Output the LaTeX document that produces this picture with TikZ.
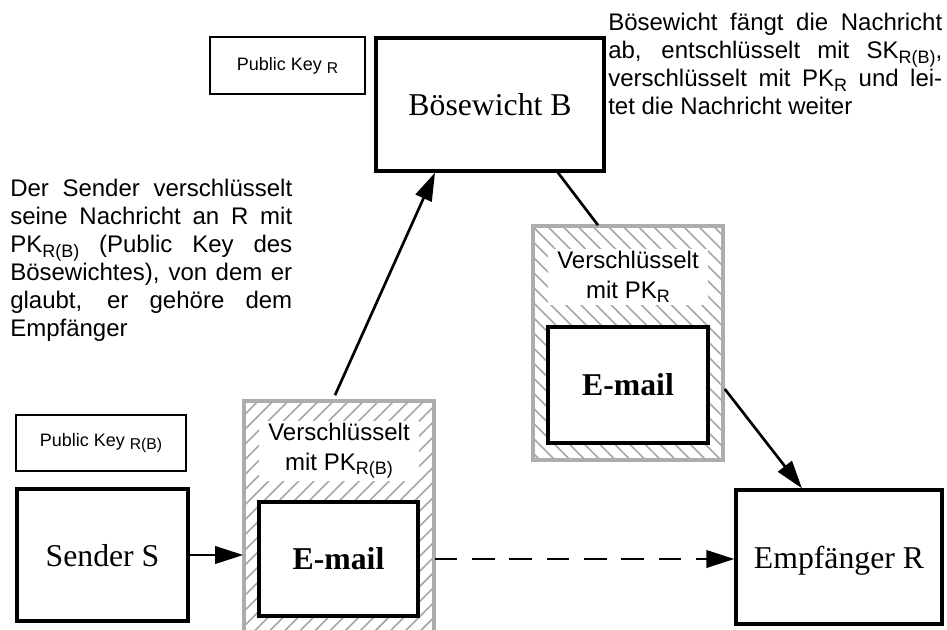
\documentclass[tikz,border=0pt]{standalone}
\usepackage{fontspec}
\setmainfont{Liberation Serif}
\setsansfont{Liberation Sans}
\usepackage{graphicx}
\usetikzlibrary{arrows.meta,patterns.meta,calc}
\newlength{\pxu}
\setlength{\pxu}{0.75pt}
\newcommand{\idx}[2][0.75]{\raisebox{-0.35ex}{\scalebox{#1}{#2}}}

\begin{document}
\begin{tikzpicture}[x=0.75pt,y=-0.75pt,
    party/.style={draw,line width=2.5pt,text depth=0pt,font=\fontsize{23.8pt}{28pt}\selectfont},
    keybox/.style={draw,line width=0.9pt,font=\sffamily\fontsize{13.5pt}{16pt}\selectfont},
    hatchbox/.style={draw=black!32,line width=2.4pt,pattern color=black!35},
    mailbox/.style={draw,line width=2.5pt,fill=white,font=\bfseries\fontsize{23.8pt}{28pt}\selectfont},
    tag/.style={fill=white,inner xsep=7pt,inner ysep=2pt,align=center,font=\sffamily\fontsize{18pt}{22pt}\selectfont},
    note/.style={inner sep=0pt,align=justify,font=\sffamily\fontsize{18pt}{21pt}\selectfont},
    arr/.style={line width=2pt,-{Triangle[length=21pt,width=13pt]}}]
    \useasboundingbox (0,0) rectangle (947,629);

    % hatched envelopes
    \node[hatchbox,pattern={Lines[angle=45,distance=8pt,line width=1.2pt]},
      minimum width=190\pxu,minimum height=239\pxu] (hatch1) at (339,520.5) {};
    \node[hatchbox,pattern={Lines[angle=-45,distance=8pt,line width=1.2pt]},
      minimum width=190\pxu,minimum height=234\pxu] (hatch2) at (628,343) {};
    \node[tag] (tag1) at (339,451) {Verschlüsselt\\mit PK\idx{R(B)}};
    \node[tag] (tag2) at (628,277) {Verschlüsselt\\mit PK\idx{R}};
    \node[mailbox,minimum width=159\pxu,minimum height=114\pxu] (mail1) at (338.5,559) {E-mail};
    \node[mailbox,minimum width=160\pxu,minimum height=116\pxu] (mail2) at (628,385) {E-mail};

    % parties
    \node[party,minimum width=171\pxu,minimum height=132\pxu] (sender) at (102.5,555) {Sender S};
    \node[party,minimum width=228\pxu,minimum height=133\pxu] (boese) at (490,104.5) {Bösewicht B};
    \node[party,minimum width=206\pxu,minimum height=134\pxu] (empf) at (839,557) {Empfänger R};

    % keys
    \node[keybox,minimum width=155\pxu,minimum height=57\pxu] (pkr) at (287.5,65.5) {Public Key \idx[0.87]{R}};
    \node[keybox,minimum width=170\pxu,minimum height=56\pxu] (pkrb) at (101,443) {Public Key \idx[0.87]{R(B)}};

    % notes
    \node[note,text width=282\pxu,anchor=north west] (left) at (10,179)
      {Der Sender verschlüsselt\linebreak seine Nachricht an R mit\linebreak
       PK\idx{R(B)} (Public Key des\linebreak Bösewichtes), von dem er\linebreak
       glaubt, er gehöre dem\linebreak Empfänger};
    \node[note,text width=334\pxu,anchor=north west] (right) at (608,13)
      {Bösewicht fängt die Nachricht\linebreak ab, entschlüsselt mit SK\idx{R(B)},\linebreak
       verschlüsselt mit PK\idx{R} und lei-\linebreak tet die Nachricht weiter};

    % connectors
    \draw[arr] (sender.east) -- (sender.east -| hatch1.west);
    \draw[arr,dash pattern=on 17pt off 11pt] (mail1 -| hatch1.east) -- (mail1 -| empf.west);
    \draw[arr] ($(hatch1.north)+(-4,-5)$) -- ($(boese.south)+(-55,0)$);
    \draw[line width=2pt] ($(boese.south)+(68,0)$) -- ($(hatch2.north)+(-30,0)$);
    \draw[arr] ($(hatch2.east)+(1,46)$) -- ($(empf.north)+(-37,0)$);
\end{tikzpicture}
\end{document}
